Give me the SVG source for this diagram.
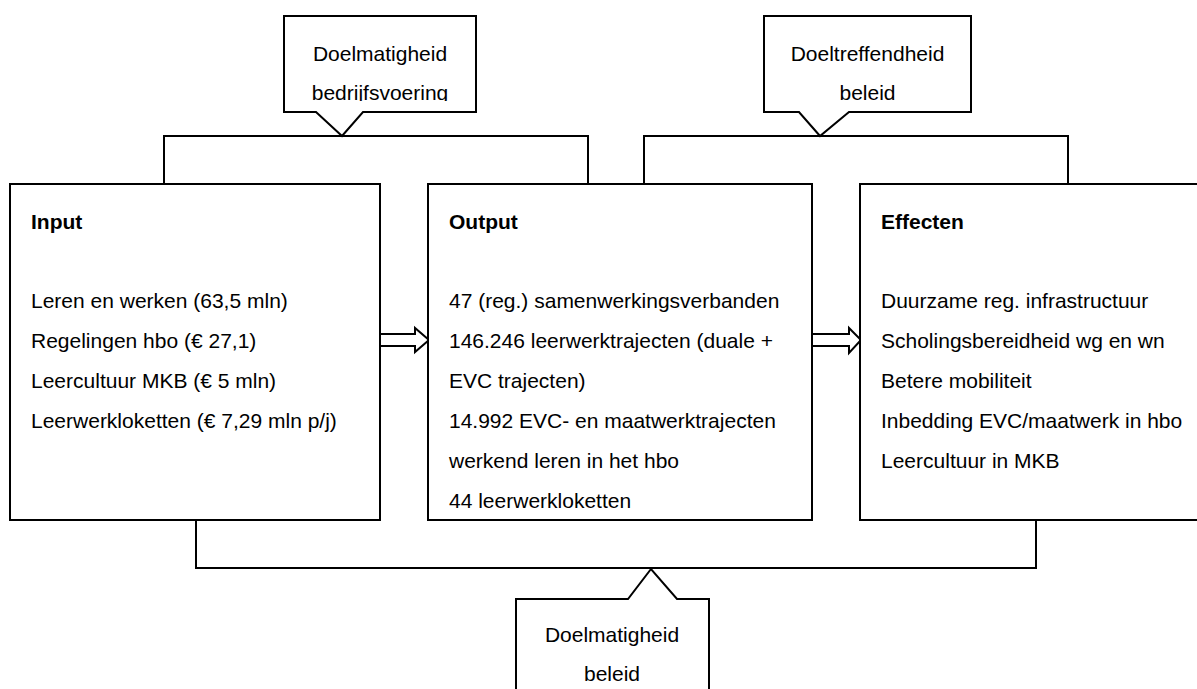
<svg xmlns="http://www.w3.org/2000/svg" width="1197" height="689" viewBox="0 0 1197 689">
  <style>
    .box { fill: #ffffff; stroke: #000000; stroke-width: 2; }
    .ln { fill: none; stroke: #000000; stroke-width: 2; }
    .arr { fill: #ffffff; stroke: #000000; stroke-width: 2; stroke-linejoin: miter; }
    .t { font-family: "Liberation Sans", Arial, sans-serif; font-size: 21px; fill: #000000; }
    .b { font-weight: bold; }
    .c { text-anchor: middle; }
  </style>
  <defs>
    <clipPath id="clip1"><rect x="284" y="16" width="192" height="85"/></clipPath>
    <clipPath id="clip2"><rect x="764" y="16" width="207" height="85"/></clipPath>
  </defs>
  <rect width="1197" height="689" fill="#ffffff"/>

  <g id="connectors">
    <polyline class="ln" points="164,184 164,136 588,136 588,184"/>
    <polyline class="ln" points="644,184 644,136 1068,136 1068,184"/>
    <polyline class="ln" points="196,520 196,568 1036,568 1036,520"/>
    <polygon class="arr" points="380,334 415,334 415,328 429,340 415,352 415,346 380,346"/>
    <polygon class="arr" points="812,334 849,334 849,328 861,340 849,353 849,346 812,346"/>
  </g>

  <g id="callout-bedrijfsvoering">
    <path class="box" d="M284,16 H476 V112 H363 L342,136 L316,112 H284 Z"/>
    <g clip-path="url(#clip1)">
      <text class="t c" x="380" y="61">Doelmatigheid</text>
      <text class="t c" x="380" y="100">bedrijfsvoering</text>
    </g>
  </g>

  <g id="callout-doeltreffendheid">
    <path class="box" d="M764,16 H971 V112 H849 L820,136 L799,112 H764 Z"/>
    <g clip-path="url(#clip2)">
      <text class="t c" x="867.5" y="61">Doeltreffendheid</text>
      <text class="t c" x="867.5" y="100">beleid</text>
    </g>
  </g>

  <g id="input">
    <rect class="box" x="10" y="184" width="370" height="336"/>
    <text class="t b" x="31" y="229">Input</text>
    <text class="t" x="31" y="308">Leren en werken (63,5 mln)</text>
    <text class="t" x="31" y="348">Regelingen hbo (€ 27,1)</text>
    <text class="t" x="31" y="388">Leercultuur MKB (€ 5 mln)</text>
    <text class="t" x="31" y="428">Leerwerkloketten (€ 7,29 mln p/j)</text>
  </g>

  <g id="output">
    <rect class="box" x="428" y="184" width="384" height="336"/>
    <text class="t b" x="449" y="229">Output</text>
    <text class="t" x="449" y="308">47 (reg.) samenwerkingsverbanden</text>
    <text class="t" x="449" y="348">146.246 leerwerktrajecten (duale +</text>
    <text class="t" x="449" y="388">EVC trajecten)</text>
    <text class="t" x="449" y="428">14.992 EVC- en maatwerktrajecten</text>
    <text class="t" x="449" y="468">werkend leren in het hbo</text>
    <text class="t" x="449" y="508">44 leerwerkloketten</text>
  </g>

  <g id="effecten">
    <rect class="box" x="860" y="184" width="380" height="336"/>
    <text class="t b" x="881" y="229">Effecten</text>
    <text class="t" x="881" y="308">Duurzame reg. infrastructuur</text>
    <text class="t" x="881" y="348">Scholingsbereidheid wg en wn</text>
    <text class="t" x="881" y="388">Betere mobiliteit</text>
    <text class="t" x="881" y="428">Inbedding EVC/maatwerk in hbo</text>
    <text class="t" x="881" y="468">Leercultuur in MKB</text>
  </g>

  <g id="callout-doelmatigheid-beleid">
    <path class="box" d="M516,700 V599 H628 L651,569 L677,599 H709 V700"/>
    <text class="t c" x="612" y="642">Doelmatigheid</text>
    <text class="t c" x="612" y="681">beleid</text>
  </g>
</svg>
